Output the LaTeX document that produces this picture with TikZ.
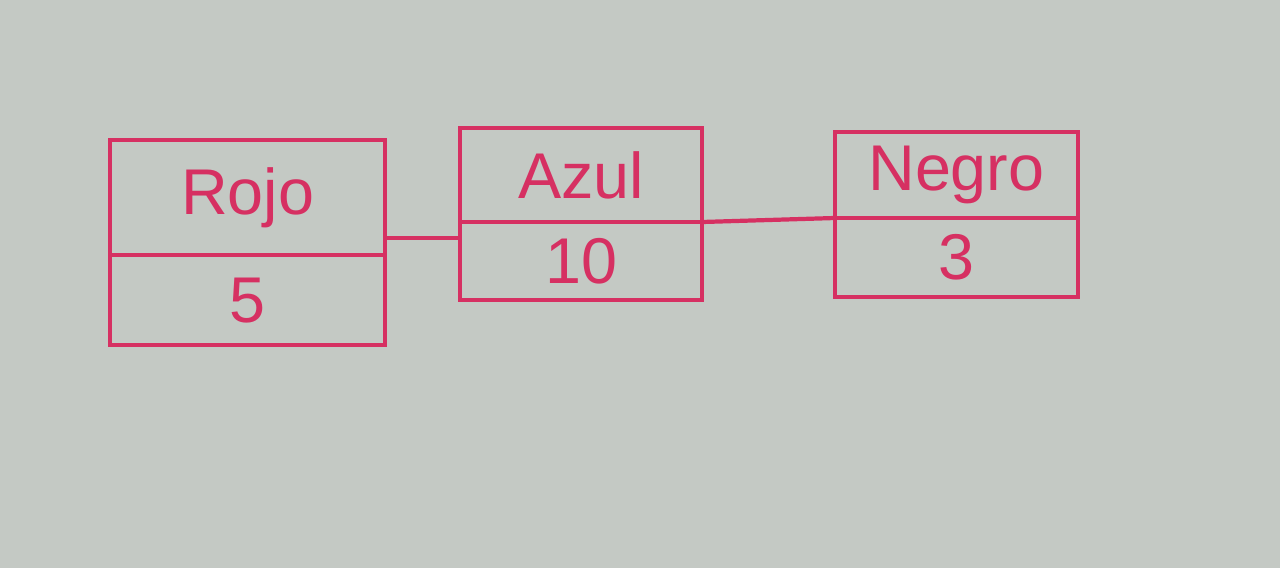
\documentclass[tikz,border=0pt]{standalone}
\usepackage{fontspec}
\setmainfont{Liberation Sans}
\usetikzlibrary{positioning, calc}
\definecolor{colour_ink}{RGB}{214,48,98}
\definecolor{colour_paper}{RGB}{196,201,196}

\begin{document}
\begin{tikzpicture}
   [
      cell/.style={draw=colour_ink, line width=3pt, outer sep=0pt, inner sep=0pt,
         text=colour_ink, font=\fontsize{46}{52}\selectfont},
      link/.style={draw=colour_ink, line width=3pt},
   ]

   % paper
   \fill[colour_paper] (0,0) rectangle (32,-14.2);
   \useasboundingbox (0,0) rectangle (32,-14.2);

   % =======================================================
   % Box: Rojo
   % =======================================================
   \node[cell, minimum width=6.875cm, minimum height=2.875cm] (rojo_name) at (6.19,-4.94) {Rojo};
   \node[cell, minimum width=6.875cm, minimum height=2.25cm, below=0cm of rojo_name] (rojo_val) {5};

   % =======================================================
   % Box: Azul
   % =======================================================
   \node[cell, minimum width=6.05cm, minimum height=2.35cm] (azul_name) at (14.53,-4.375) {Azul};
   \node[cell, minimum width=6.05cm, minimum height=1.95cm, below=0cm of azul_name] (azul_val) {10};

   % =======================================================
   % Box: Negro
   % =======================================================
   \node[cell, minimum width=6.075cm, minimum height=2.15cm] (negro_name) at (23.91,-4.375) {Negro};
   \node[cell, minimum width=6.075cm, minimum height=1.975cm, below=0cm of negro_name] (negro_val) {3};

   % =======================================================
   % Links
   % =======================================================
   \coordinate (rojo_out) at ($(rojo_name.south east)!0.15!(rojo_name.north east)$);
   \draw[link] (rojo_out) -- (azul_val.west |- rojo_out);
   \draw[link] (azul_name.south east) -- (negro_name.south west);

\end{tikzpicture}
\end{document}
